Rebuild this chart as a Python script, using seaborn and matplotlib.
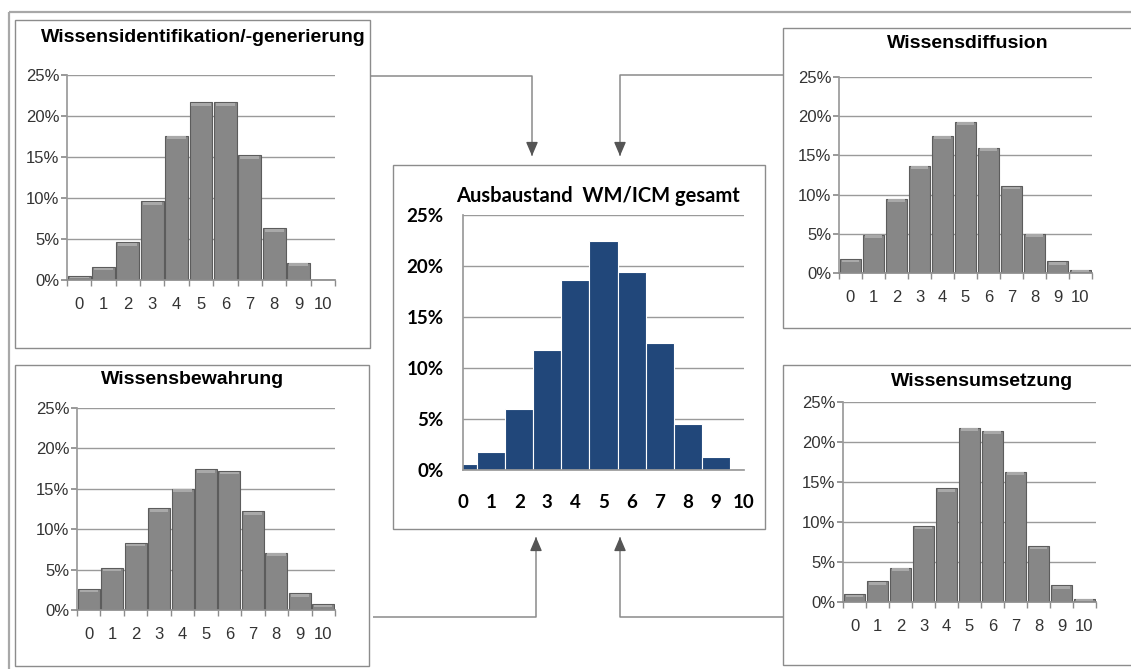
import matplotlib
matplotlib.use('Agg')
import matplotlib.pyplot as plt
from matplotlib.patches import Rectangle
from matplotlib.ticker import FixedLocator, FuncFormatter
import seaborn as sns
import pandas as pd

# Werte (Anteil in %) je Ausbaustufe 0..10
scores = ['0', '1', '2', '3', '4', '5', '6', '7', '8', '9', '10']
ident = [0.5, 1.6, 4.6, 9.6, 17.6, 21.7, 21.7, 15.2, 6.3, 2.1, 0.0]
diffusion = [1.8, 4.9, 9.5, 13.7, 17.5, 19.3, 16.0, 11.1, 5.0, 1.5, 0.4]
bewahrung = [2.6, 5.2, 8.3, 12.6, 15.0, 17.4, 17.2, 12.2, 7.1, 2.1, 0.7]
umsetzung = [1.0, 2.6, 4.3, 9.5, 14.2, 21.8, 21.4, 16.3, 7.0, 2.1, 0.4]
gesamt = [0.55, 1.8, 6.0, 11.8, 18.6, 22.5, 19.4, 12.5, 4.5, 1.3, 0.0]

titles = ['Wissensidentifikation/-generierung', 'Wissensdiffusion',
          'Wissensbewahrung', 'Wissensumsetzung', 'Ausbaustand  WM/ICM gesamt']

sns.set_theme(style='white')
plt.rcParams['font.family'] = ['Liberation Sans', 'DejaVu Sans']

W, H = 1131, 669
fig = plt.figure(figsize=(W / 100, H / 100), dpi=100)
fig.patch.set_facecolor('white')

# Hintergrund-Achse in Pixelkoordinaten fuer Rahmen und Pfeile
bg = fig.add_axes([0, 0, 1, 1])
bg.set_xlim(0, W)
bg.set_ylim(H, 0)
bg.axis('off')

box_col = '#8c8c8c'
grid_col = '#9a9a9a'
bg.add_patch(Rectangle((9, 12), 1140, 700, fill=False, ec='#a8a8a8', lw=1.6))
for (x0, y0, x1, y1) in [(15, 20, 370, 348), (783, 28, 1140, 328),
                         (15, 365, 369, 666), (783, 365, 1140, 665),
                         (393, 165, 765, 529)]:
    bg.add_patch(Rectangle((x0, y0), x1 - x0, y1 - y0, fill='white', fc='white', ec=box_col, lw=1))


def connector(pts, tip):
    xs = [p[0] for p in pts] + [tip[0]]
    ys = [p[1] for p in pts] + [tip[1]]
    bg.plot(xs, ys, color='#8a8a8a', lw=1.1, solid_capstyle='butt')
    d = 9 if tip[1] > pts[-1][1] else -9
    bg.annotate('', xy=tip, xytext=(tip[0], tip[1] - d),
                arrowprops=dict(arrowstyle='-|>,head_length=0.7,head_width=0.3',
                                color='#555555', lw=1, shrinkA=0, shrinkB=0))


connector([(370, 76), (532, 76)], (532, 156))
connector([(783, 75), (620, 75)], (620, 156))
connector([(373, 617), (536, 617)], (536, 537))
connector([(783, 617), (620, 617)], (620, 537))


def px_axes(l, t, r, b):
    return fig.add_axes([l / W, 1 - b / H, (r - l) / W, (b - t) / H])


pct = FuncFormatter(lambda v, p: f'{int(v)}%')


def gray_panel(rect, vals, title, title_xy):
    ax = px_axes(*rect)
    df = pd.DataFrame({'Stufe': scores, 'Anteil': vals})
    sns.barplot(data=df, x='Stufe', y='Anteil', ax=ax, color='#878787',
                width=0.94, saturation=1, edgecolor='#5c5c5c', linewidth=0.8)
    # leichter Glanz an der Oberkante der Balken
    for p in list(ax.patches):
        h = p.get_height()
        if h <= 0:
            continue
        hl = min(0.35, h * 0.4)
        ax.add_patch(Rectangle((p.get_x() + 0.08, p.get_y() + h - hl - 0.08), p.get_width() - 0.16, hl,
                               fc='#a9a9a9', ec='none', zorder=3))
    ax.set_xlim(-0.5, 10.5)
    ax.set_ylim(0, 25)
    ax.set_yticks([0, 5, 10, 15, 20, 25])
    ax.yaxis.set_major_formatter(pct)
    ax.set_xlabel('')
    ax.set_ylabel('')
    ax.yaxis.grid(True, color=grid_col, lw=1)
    ax.set_axisbelow(True)
    for s in ['top', 'right']:
        ax.spines[s].set_visible(False)
    ax.spines['left'].set_color(grid_col)
    ax.spines['bottom'].set_color('#8c8c8c')
    ax.xaxis.set_minor_locator(FixedLocator([i - 0.5 for i in range(12)]))
    ax.tick_params(axis='x', which='major', length=0, pad=12, labelsize=12, labelcolor='#333333')
    ax.tick_params(axis='x', which='minor', length=4, color='#8c8c8c', bottom=True)
    ax.tick_params(axis='y', length=4, color='#8c8c8c', pad=1.5, labelsize=12,
                   labelcolor='#333333', left=True)
    ax.set_facecolor('none')
    bg.text(*title_xy, title, ha='center', va='center', fontsize=14, fontweight='bold', color='black')
    return ax


gray_panel((67, 75, 335, 280), ident, titles[0], (203, 38))
gray_panel((839, 77, 1092, 273), diffusion, titles[1], (968, 43))
gray_panel((77, 408, 335, 610), bewahrung, titles[2], (193, 379))
gray_panel((843, 402, 1096, 602), umsetzung, titles[3], (982, 381))

# Mittleres Diagramm
ax = px_axes(463, 215, 744, 470)
df = pd.DataFrame({'Stufe': scores, 'Anteil': gesamt})
sns.barplot(data=df, x='Stufe', y='Anteil', ax=ax, color='#21477a', width=1.0,
            saturation=1, edgecolor='white', linewidth=0.8)
ax.set_xlim(0, 10)
ax.set_ylim(0, 25)
ax.set_yticks([0, 5, 10, 15, 20, 25])
ax.yaxis.set_major_formatter(pct)
ax.set_xlabel('')
ax.set_ylabel('')
ax.yaxis.grid(True, color=grid_col, lw=1)
ax.set_axisbelow(True)
for s in ['top', 'right']:
    ax.spines[s].set_visible(False)
ax.spines['left'].set_color(grid_col)
ax.spines['bottom'].set_color(grid_col)
ax.tick_params(axis='x', length=0, pad=17)
ax.tick_params(axis='y', length=0, pad=14)
for lab in ax.get_xticklabels() + ax.get_yticklabels():
    lab.set_family(['Lato', 'DejaVu Sans'])
    lab.set_fontweight('bold')
    lab.set_fontsize(13.5)
    lab.set_color('black')
ax.set_facecolor('none')
bg.text(598, 196, titles[4], ha='center', va='center', fontsize=14.5, fontweight='bold',
        family=['Lato', 'DejaVu Sans'], color='black')

fig.savefig('out.png', dpi=100)
